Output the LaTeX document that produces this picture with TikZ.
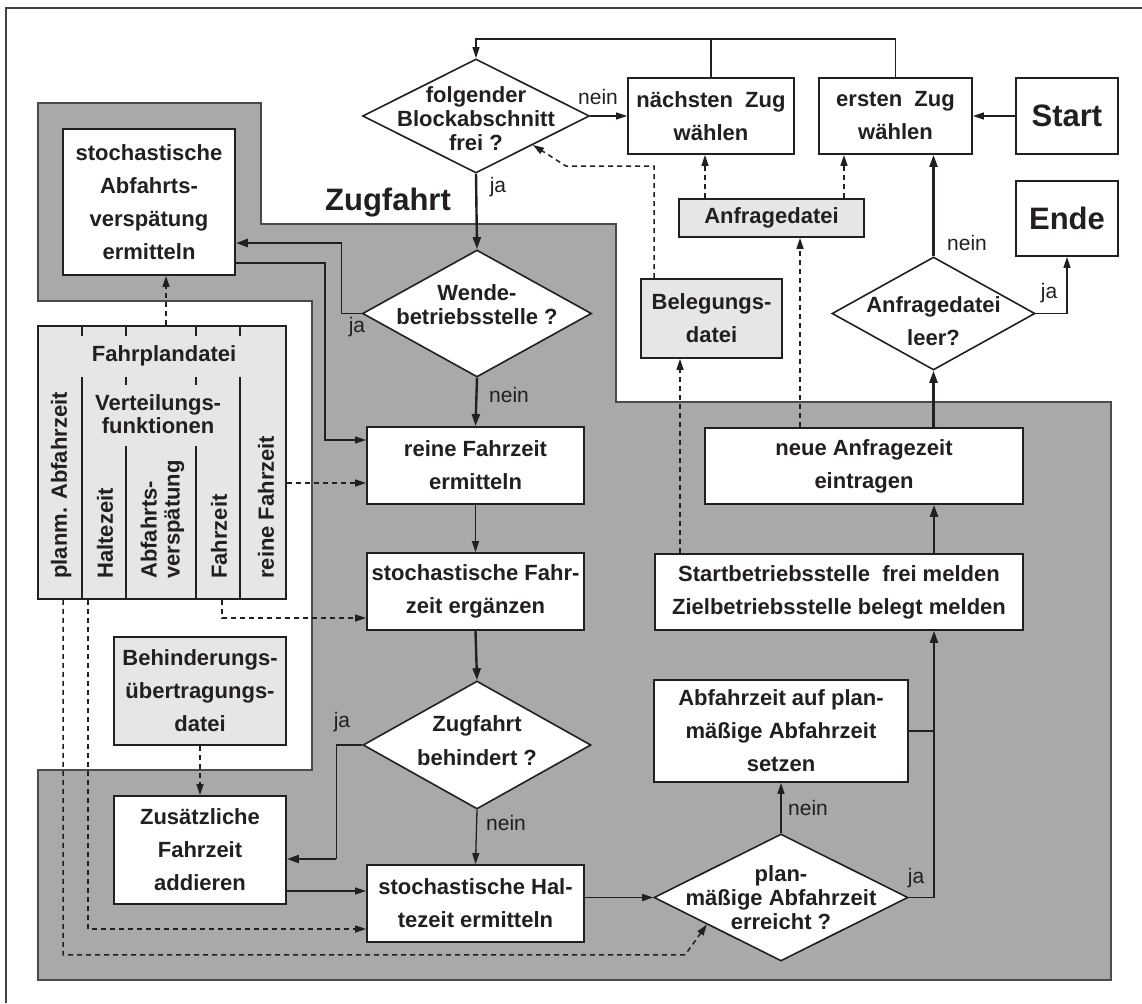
\documentclass[tikz,border=0pt]{standalone}
\usepackage{fontspec}
\setmainfont{Liberation Sans}
\usetikzlibrary{arrows.meta,shapes.geometric,calc}
\definecolor{ink}{HTML}{231F20}
\definecolor{zone}{HTML}{A9A9A9}
\definecolor{zoneline}{HTML}{4A4A4A}
\definecolor{filebg}{HTML}{E6E6E6}
\begin{document}
\begin{tikzpicture}[x=1pt,y=-1pt,
  box/.style={draw=ink, line width=1.8pt, fill=white, text=ink, align=center, inner sep=2pt, font=\fontsize{22}{33}\selectfont\bfseries},
  filebox/.style={box, fill=filebg},
  dia/.style={diamond, draw=ink, line width=1.6pt, fill=white, inner sep=0pt},
  diatext/.style={text=ink, align=center, inner sep=0pt, font=\fontsize{22}{24}\selectfont\bfseries},
  lbl/.style={text=ink, inner sep=0pt, font=\fontsize{21}{21}\selectfont},
  rot/.style={text=ink, rotate=90, anchor=west, align=left, inner sep=0pt, font=\fontsize{22}{23}\selectfont\bfseries},
  boxline/.style={draw=ink, line width=1.6pt},
  conn/.style={draw=ink, line width=1.3pt},
  thinarrow/.style={conn, -{Triangle[length=11pt,width=7pt]}},
  thickarrow/.style={draw=ink, line width=2.4pt, -{Triangle[length=12pt,width=8pt]}},
  dasharrow/.style={draw=ink, line width=1.5pt, dash pattern=on 5pt off 4pt, -{Triangle[length=11pt,width=7pt]}},
]
\useasboundingbox (0,0) rectangle (1142,1003);
% outer frame (top and left edges visible)
\draw[ink!85, line width=1.2pt] (6,1003) -- (6,8) -- (1142,8);

% grey zone "Zugfahrt"
\path[fill=zone, draw=zoneline, line width=1.2pt]
  (38,103) -- (261,103) -- (261,224) -- (616,224) -- (616,402) -- (1111,402)
  -- (1111,980) -- (38,980) -- (38,770) -- (312,770) -- (312,301) -- (38,301) -- cycle;
\node[text=ink, inner sep=0pt, font=\fontsize{31}{31}\selectfont\bfseries] (zf) at (388,203) {Zugfahrt};

% boxes
\node[box, minimum width=172, minimum height=146] (sab) at (149,202) {stochastische\\Abfahrts-\\verspätung\\ermitteln};
\node[box, fill=filebg, minimum width=248, minimum height=273] (fp) at (162,462.5) {};
\node[filebox, minimum width=172, minimum height=108] (beh) at (200,691) {Behinderungs-\\übertragungs-\\datei};
\node[box, minimum width=172, minimum height=108] (zus) at (200,850) {Zusätzliche\\Fahrzeit\\addieren};
\node[box, minimum width=217, minimum height=77] (reine) at (475.5,465.5) {reine Fahrzeit\\ermitteln};
\node[box, minimum width=217, minimum height=77] (sfz) at (475.5,591.5) {stochastische Fahr-\\zeit ergänzen};
\node[box, minimum width=217, minimum height=77] (shz) at (475.5,903.5) {stochastische Hal-\\tezeit ermitteln};
\node[box, minimum width=166, minimum height=76] (naechst) at (711,116) {nächsten~~Zug\\wählen};
\node[box, minimum width=153, minimum height=76] (ersten) at (895.5,116) {ersten~~Zug\\wählen};
\node[box, minimum width=102, minimum height=76, font=\fontsize{31}{31}\selectfont\bfseries] (start) at (1067,116) {Start};
\node[box, minimum width=102, minimum height=75, font=\fontsize{31}{31}\selectfont\bfseries] (ende) at (1067,218.5) {Ende};
\node[filebox, minimum width=185, minimum height=38] (anfr) at (771.5,218) {Anfragedatei};
\node[filebox, minimum width=141, minimum height=79] (beleg) at (711.5,318.5) {Belegungs-\\datei};
\node[box, minimum width=318, minimum height=76] (neue) at (864,466) {neue Anfragezeit\\eintragen};
\node[box, minimum width=368, minimum height=76] (startb) at (839,592) {Startbetriebsstelle~~frei melden\\Zielbetriebsstelle belegt melden};
\node[box, minimum width=254, minimum height=102] (abf) at (781,731) {Abfahrzeit auf plan-\\mäßige Abfahrzeit\\setzen};

% diamonds
\node[dia, minimum width=227, minimum height=114] (folg) at (476,116) {};
\node[diatext] (folgt) at ($(folg.center)+(0,3)$) {folgender\\Blockabschnitt\\frei ?};
\node[dia, minimum width=229, minimum height=127] (wende) at (477,313.5) {};
\node[diatext] (wendet) at ($(wende.center)+(0,-8.5)$) {Wende-\\betriebsstelle ?};
\node[dia, minimum width=228, minimum height=128] (zb) at (477,745) {};
\node[diatext, font=\fontsize{22}{34}\selectfont\bfseries] (zbt) at ($(zb.center)+(0,-4)$) {Zugfahrt\\behindert ?};
\node[dia, minimum width=203, minimum height=113] (leer) at (933.5,313.5) {};
\node[diatext, font=\fontsize{22}{33}\selectfont\bfseries] (leert) at ($(leer.center)+(0,8)$) {Anfragedatei\\leer?};
\node[dia, minimum width=254, minimum height=127] (plan) at (781,897.5) {};
\node[diatext] (plant) at (plan.center) {plan-\\mäßige Abfahrzeit\\erreicht ?};

% Fahrplandatei internals
\begin{scope}[shift={(fp.north west)}]
  \draw[boxline] (45,0) -- (45,11) (89,0) -- (89,11) (159,0) -- (159,11) (203,0) -- (203,11);
  \draw[boxline] (45,52) -- (45,273) (203,52) -- (203,273)
                 (89,52) -- (89,60) (159,52) -- (159,60)
                 (89,121) -- (89,273) (159,121) -- (159,273);
\end{scope}
\node[diatext] (fph) at ($(fp.north west)+(127,31)$) {Fahrplandatei};
\node[diatext, font=\fontsize{22}{23}\selectfont\bfseries] (vf) at ($(fp.north west)+(121,89)$) {Verteilungs-\\funktionen};
\node[rot] (c1) at ($(fp.south west)+(24,-21)$) {planm. Abfahrzeit};
\node[rot] (c2) at ($(fp.south west)+(68,-21)$) {Haltezeit};
\node[rot] (c3) at ($(fp.south west)+(125.5,-21)$) {Abfahrts-\\verspätung};
\node[rot] (c4) at ($(fp.south west)+(182,-21)$) {Fahrzeit};
\node[rot] (c5) at ($(fp.south west)+(229,-21)$) {reine Fahrzeit};

% solid connectors
\draw[thinarrow] (ersten.north) -- ++(0,-38) -| (folg.north);
\draw[conn] (naechst.north) -- ++(0,-38);
\draw[thinarrow] (folg.east) -- (naechst.west);
\draw[thickarrow] (folg.south) -- (wende.north);
\coordinate (wj) at ($(wende.west)+(-20,0)$);
\coordinate (sabIn) at ($(sab.east)+(0,41)$);
\draw[conn] (wende.west) -- (wj) -- (wj |- sabIn);
\draw[thickarrow] (wj |- sabIn) -- (sabIn);
\draw[thinarrow] ($(sab.east)+(0,61)$) -- ++(89,0) |- ($(reine.west)+(0,-25.5)$);
\draw[thickarrow] (wende.south) -- (reine.north);
\draw[thinarrow] (reine.south) -- (sfz.north);
\draw[thickarrow] (sfz.south) -- (zb.north);
\coordinate (zj) at ($(zb.west)+(-26,0)$);
\coordinate (zusIn) at ($(zus.east)+(0,9)$);
\draw[conn] (zb.west) -- (zj) -- (zj |- zusIn);
\draw[thickarrow] (zj |- zusIn) -- (zusIn);
\draw[thinarrow] (zb.south) -- (shz.north);
\coordinate (zusR) at ($(zus.east)+(0,41)$);
\draw[thinarrow] (zusR) -- (zusR -| shz.west);
\draw[thinarrow] (shz.east |- plan.west) -- (plan.west);
\draw[thinarrow] (plan.north) -- (abf.south);
\coordinate (jx) at ($(startb.south)+(95,0)$);
\draw[conn] (plan.east) -- (plan.east -| jx);
\draw[draw=ink, line width=2pt, -{Triangle[length=12pt,width=8pt]}] (plan.east -| jx) -- (jx);
\draw[conn] (abf.east) -- (abf.east -| jx);
\draw[thickarrow] (jx |- startb.north) -- (jx |- neue.south);
\draw[thickarrow] (leer.south |- neue.north) -- (leer.south);
\draw[thickarrow] (leer.north) -- (leer.north |- ersten.south);
\draw[thinarrow] (leer.east) -| (ende.south);
\draw[thinarrow] (start.west) -- (ersten.east);

% dashed data flows
\coordinate (fpTop) at ($(fp.north)+(4,0)$);
\draw[dasharrow] (fpTop) -- (fpTop |- sab.south);
\coordinate (fpR) at ($(fp.east)+(0,20.5)$);
\draw[dasharrow] (fpR) -- (fpR -| reine.west);
\draw[dasharrow] ($(fp.south west)+(185,0)$) |- ($(sfz.west)+(0,26.5)$);
\draw[dasharrow] ($(fp.south west)+(51,0)$) |- ($(shz.west)+(0,25.5)$);
\draw[dasharrow] ($(fp.south west)+(26,0)$) -- ++(0,355) -- ++(622,0) -- (plan.200);
\draw[dasharrow] (beh.south) -- (zus.north);
\coordinate (n1) at ($(naechst.south)+(-6,0)$);
\draw[dasharrow] (n1 |- anfr.north) -- (n1);
\coordinate (e1) at ($(ersten.south)+(-51.5,0)$);
\draw[dasharrow] (e1 |- anfr.north) -- (e1);
\coordinate (a1) at ($(neue.north)+(-64,0)$);
\draw[dasharrow] (a1) -- (a1 |- anfr.south);
\coordinate (b1) at ($(startb.north)+(-159,0)$);
\draw[dasharrow] (b1) -- (b1 |- beleg.south);
\coordinate (g1) at ($(beleg.north)+(-57.5,0)$);
\draw[dasharrow] (g1) -- ++(0,-112) -- ++(-88,0) -- (folg.-27);

% branch labels
\node[lbl] (l1) at (598,97) {nein};
\node[lbl] (l2) at (498,187) {ja};
\node[lbl] (l3) at (357,327) {ja};
\node[lbl] (l4) at (509,395) {nein};
\node[lbl] (l5) at (342,722) {ja};
\node[lbl] (l6) at (506,823) {nein};
\node[lbl] (l7) at (967,243) {nein};
\node[lbl] (l8) at (1049,293) {ja};
\node[lbl] (l9) at (808,808) {nein};
\node[lbl] (l10) at (916,878) {ja};
\end{tikzpicture}
\end{document}
